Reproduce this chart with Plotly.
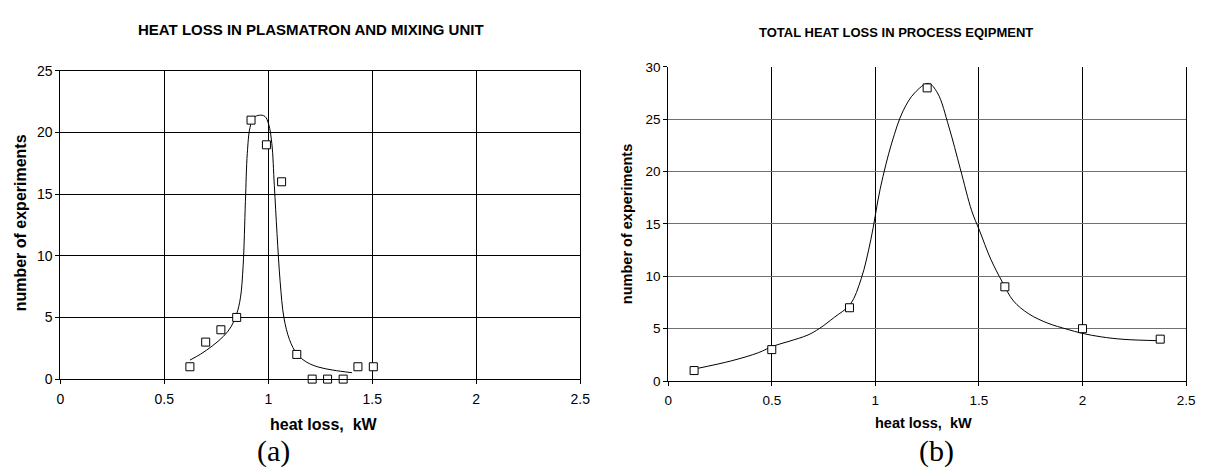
import plotly.graph_objects as go

# ---- data: chart (a) ----
pts_x_a = [0.623, 0.699, 0.772, 0.848, 0.917, 0.991, 1.064, 1.137, 1.211, 1.285, 1.360, 1.431, 1.505]
pts_y_a = [1, 3, 4, 5, 21, 19, 16, 2, 0, 0, 0, 1, 1]
fit_x_a = [0.623, 0.675, 0.730, 0.784, 0.821, 0.848, 0.866, 0.879, 0.890, 0.899, 0.912, 0.930,
           0.957, 0.984, 1.002, 1.017, 1.029, 1.042, 1.057, 1.075, 1.102, 1.138, 1.184, 1.238,
           1.311, 1.402]
fit_y_a = [1.54, 2.03, 2.68, 3.46, 4.24, 5.29, 6.59, 9.19, 14.4, 18.3, 20.4, 21.2,
           21.4, 21.3, 20.65, 19.1, 15.7, 11.8, 7.9, 5.0, 3.2, 2.03, 1.38, 0.99,
           0.73, 0.52]

# ---- data: chart (b) ----
pts_x_b = [0.125, 0.5, 0.875, 1.25, 1.625, 2.0, 2.375]
pts_y_b = [1, 3, 7, 28, 9, 5, 4]
fit_x_b = [0.132, 0.307, 0.436, 0.506, 0.583, 0.675, 0.730, 0.803, 0.879, 0.932, 0.978, 1.024,
           1.079, 1.134, 1.189, 1.256, 1.300, 1.355, 1.410, 1.465, 1.502, 1.557, 1.612, 1.667,
           1.741, 1.833, 1.925, 2.0, 2.090, 2.200, 2.373]
fit_y_b = [1.17, 1.94, 2.71, 3.33, 3.79, 4.40, 5.02, 6.10, 7.33, 9.79, 13.49, 18.42,
           22.73, 25.81, 27.51, 28.43, 27.51, 24.27, 20.27, 16.26, 14.41, 11.64, 9.49, 7.64,
           6.41, 5.52, 4.95, 4.55, 4.22, 3.98, 3.85]

titles = ["HEAT LOSS IN PLASMATRON AND MIXING UNIT", "TOTAL HEAT LOSS IN PROCESS EQIPMENT"]
x_title = "heat loss,&nbsp; kW"
y_title = "number of experiments"
panel_labels = ["(a)", "(b)"]

SANS = "Arial, Liberation Sans, sans-serif"
SERIF = "Times New Roman, Liberation Serif, serif"

fig = go.Figure()

marker = dict(symbol="square", size=8, color="white", line=dict(color="black", width=1))

fig.add_trace(go.Scatter(x=fit_x_a, y=fit_y_a, mode="lines", line=dict(color="black", width=1, shape="spline"),
                         xaxis="x", yaxis="y", hoverinfo="skip"))
fig.add_trace(go.Scatter(x=pts_x_a, y=pts_y_a, mode="markers", marker=marker, xaxis="x", yaxis="y", cliponaxis=False))
fig.add_trace(go.Scatter(x=fit_x_b, y=fit_y_b, mode="lines", line=dict(color="black", width=1, shape="spline"),
                         xaxis="x2", yaxis="y2", hoverinfo="skip"))
fig.add_trace(go.Scatter(x=pts_x_b, y=pts_y_b, mode="markers", marker=marker, xaxis="x2", yaxis="y2", cliponaxis=False))

W, H = 1206, 476
dom_a_x = [57 / W, 583 / W]
dom_a_y = [(H - 384) / H, (H - 65) / H]
dom_b_x = [672 / W, 1196 / W]
dom_b_y = [(H - 386) / H, (H - 61) / H]


def axis_common(fs, mirror=True):
    return dict(showline=True, linecolor="black", linewidth=1, mirror=mirror, ticks="outside",
                ticklen=4, tickcolor="black", tickfont=dict(family=SANS, size=fs, color="black"),
                zeroline=False, showgrid=True, gridwidth=1)


fig.update_layout(
    width=W, height=H, autosize=False, showlegend=False,
    paper_bgcolor="white", plot_bgcolor="white",
    margin=dict(l=0, r=0, t=0, b=0),
    xaxis=dict(domain=dom_a_x, anchor="y", range=[0, 2.5], dtick=0.5, tick0=0, gridcolor="black",
               ticklabelstandoff=3, **axis_common(14)),
    yaxis=dict(domain=dom_a_y, anchor="x", range=[0, 25], dtick=5, tick0=0, gridcolor="black", **axis_common(14)),
    xaxis2=dict(domain=dom_b_x, anchor="y2", range=[0, 2.5], dtick=0.5, tick0=0, gridcolor="black",
                ticklabelstandoff=3, **axis_common(13.5, mirror=False)),
    yaxis2=dict(domain=dom_b_y, anchor="x2", range=[0, 30], dtick=5, tick0=0, gridcolor="#707070",
                **axis_common(13.5)),
)

ann = []
# chart titles
ann.append(dict(text="<b>" + titles[0] + "</b>", x=311 / W, y=1 - 22 / H, xref="paper", yref="paper",
                showarrow=False, xanchor="center", yanchor="middle", font=dict(family=SANS, size=15, color="black")))
ann.append(dict(text="<b>" + titles[1] + "</b>", x=902 / W, y=1 - 25 / H, xref="paper", yref="paper",
                showarrow=False, xanchor="center", yanchor="middle", font=dict(family=SANS, size=13, color="black")))
# x-axis titles
ann.append(dict(text="<b>" + x_title + "</b>", x=324 / W, y=1 - 431 / H, xref="paper", yref="paper",
                showarrow=False, xanchor="center", yanchor="middle", font=dict(family=SANS, size=16, color="black")))
ann.append(dict(text="<b>" + x_title + "</b>", x=930 / W, y=1 - 429 / H, xref="paper", yref="paper",
                showarrow=False, xanchor="center", yanchor="middle", font=dict(family=SANS, size=14.5, color="black")))
# y-axis titles
ann.append(dict(text="<b>" + y_title + "</b>", x=17 / W, y=1 - 222 / H, xref="paper", yref="paper", textangle=-90,
                showarrow=False, xanchor="center", yanchor="middle", font=dict(family=SANS, size=16, color="black")))
ann.append(dict(text="<b>" + y_title + "</b>", x=631 / W, y=1 - 224 / H, xref="paper", yref="paper", textangle=-90,
                showarrow=False, xanchor="center", yanchor="middle", font=dict(family=SANS, size=14.5, color="black")))
# panel labels
ann.append(dict(text=panel_labels[0], x=273 / W, y=1 - 458 / H, xref="paper", yref="paper",
                showarrow=False, xanchor="center", yanchor="middle", font=dict(family=SERIF, size=30, color="black")))
ann.append(dict(text=panel_labels[1], x=943 / W, y=1 - 458 / H, xref="paper", yref="paper",
                showarrow=False, xanchor="center", yanchor="middle", font=dict(family=SERIF, size=30, color="black")))
fig.update_layout(annotations=ann)

fig.write_html("out.html", config={"displayModeBar": False},
               post_script="document.body.style.margin='0';document.body.style.overflow='hidden';")
